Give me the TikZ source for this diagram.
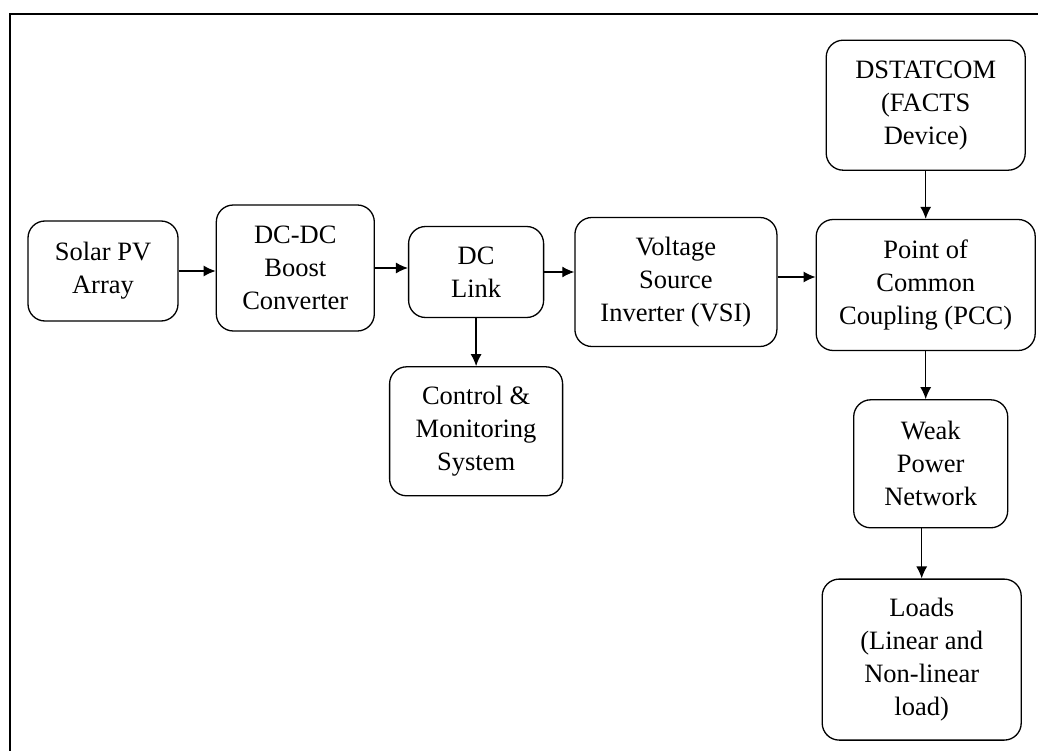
\documentclass[tikz,border=0pt]{standalone}
\usepackage{fontspec}
\setmainfont{Liberation Serif}
\usepackage{tikz}
\usetikzlibrary{arrows.meta,positioning,calc}

\begin{document}
\begin{tikzpicture}[
    x=1pt, y=1pt,
    block/.style={draw, rectangle, rounded corners=17pt, line width=1.3pt, align=center, inner sep=0pt,
        font=\fontsize{26.5}{33}\selectfont},
    arrow/.style={line width=1.3pt, -{Latex[length=12pt,width=11pt]}},
    node distance=0pt
]
    \useasboundingbox (0,0) rectangle (1038,-751);
    % outer frame (only top and left edges visible)
    \draw[line width=2.5pt] (10,-751) -- (10,-14) -- (1038,-14);

    \node[block, minimum width=150pt, minimum height=100pt] (solar) at (103,-271) {Solar PV\\Array};
    \node[block, minimum width=158pt, minimum height=126pt, right=37pt of solar, yshift=3pt] (boost) {DC-DC\\Boost\\Converter};
    \node[block, minimum width=135pt, minimum height=91pt, right=33pt of boost, yshift=-4pt] (dclink) {DC\\Link};
    \node[block, minimum width=173pt, minimum height=129pt, below=48pt of dclink] (control) {Control \&\\Monitoring\\System};
    \node[block, minimum width=202pt, minimum height=129pt, right=30pt of dclink, yshift=-10pt] (vsi) {Voltage\\Source\\Inverter (VSI)};
    \node[block, minimum width=219pt, minimum height=131pt, right=38pt of vsi, yshift=-3pt] (pcc) {Point of\\Common\\Coupling (PCC)};
    \node[block, minimum width=199pt, minimum height=130pt, above=48pt of pcc] (dstatcom) {DSTATCOM\\(FACTS\\Device)};
    \node[block, minimum width=154pt, minimum height=128pt, below=48pt of pcc, xshift=5pt] (grid) {Weak\\Power\\Network};
    \node[block, minimum width=199pt, minimum height=161pt, below=50pt of grid, xshift=-9pt] (loads) {Loads\\(Linear and\\Non-linear\\load)};

    \draw[arrow] (solar.east) -- (solar.east -| boost.west);
    \draw[arrow] (boost.east) -- (boost.east -| dclink.west);
    \draw[arrow] (dclink.east) -- (dclink.east -| vsi.west);
    \draw[arrow] ($(vsi.east)+(0,5)$) -- ($(vsi.east -| pcc.west)+(0,5)$);
    \draw[arrow] (dclink.south) -- (control.north);
    \draw[arrow] (dstatcom.south) -- (dstatcom.south |- pcc.north);
    \draw[arrow] (pcc.south) -- (pcc.south |- grid.north);
    \draw[arrow] (loads.north |- grid.south) -- (loads.north);
\end{tikzpicture}
\end{document}
